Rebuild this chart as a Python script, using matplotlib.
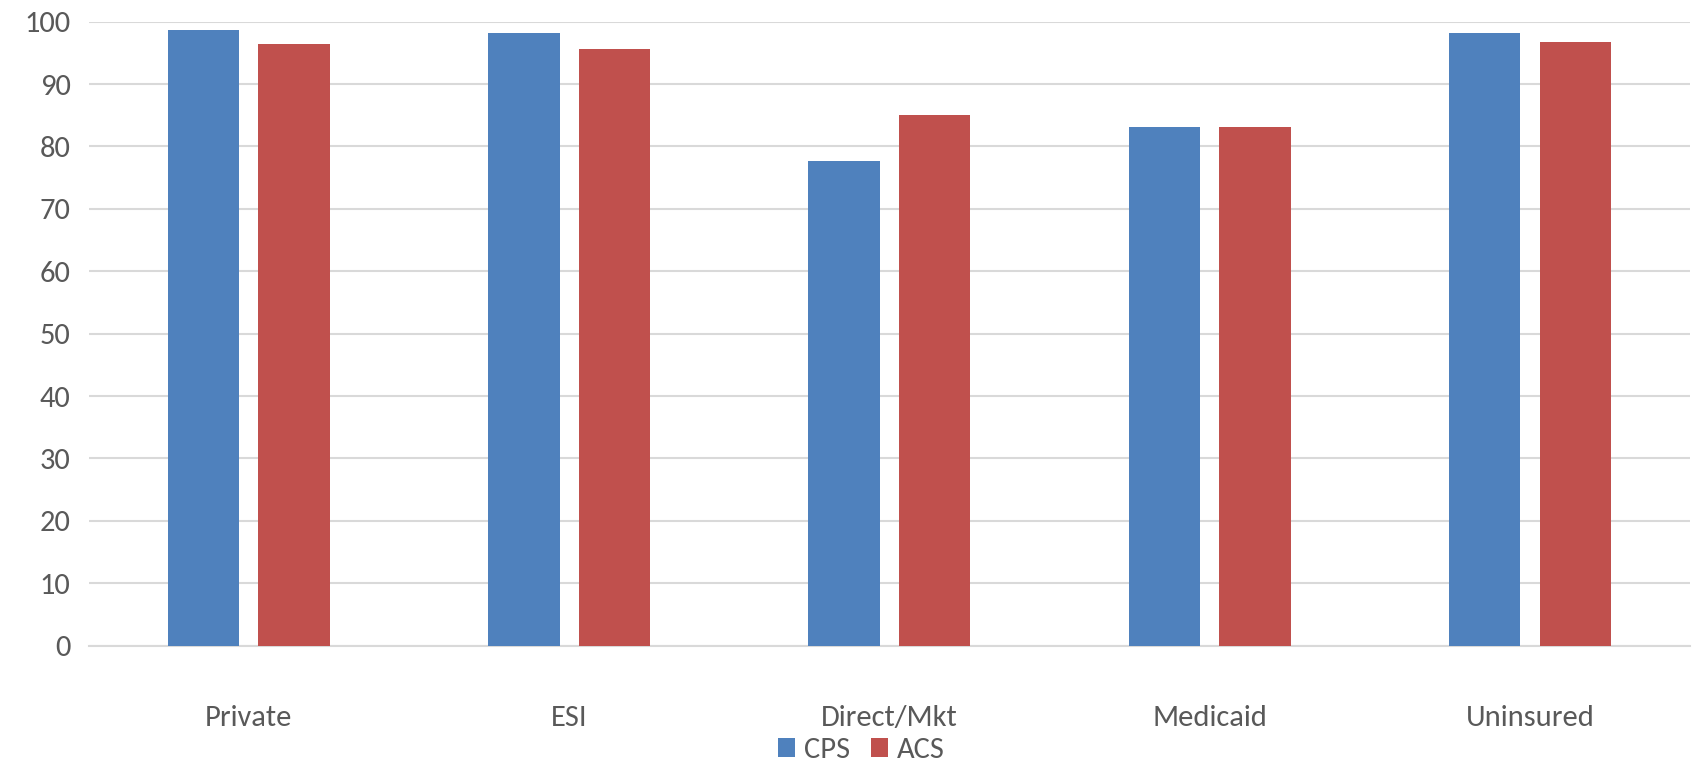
import matplotlib
matplotlib.use('Agg')
import matplotlib.pyplot as plt
import numpy as np

# datos
categorias = ['Private', 'ESI', 'Direct/Mkt', 'Medicaid', 'Uninsured']
cps = [98.7, 98.1, 77.6, 83.1, 98.1]
acs = [96.4, 95.6, 85.0, 83.1, 96.7]
yticks = [0, 10, 20, 30, 40, 50, 60, 70, 80, 90, 100]

AZUL = '#4F81BD'
ROJO = '#C0504D'
GRIS = '#595959'

plt.rcParams['font.family'] = ['Carlito', 'Liberation Sans', 'DejaVu Sans']

fig = plt.figure(figsize=(16.96, 7.67), dpi=100)
ax = fig.add_axes([0.0523, 0.1582, 0.9442, 0.8136])

x = np.arange(len(categorias))
ancho = 0.223
sep = ancho / 2 + 0.03
ax.bar(x - sep, cps, ancho, color=AZUL, label='CPS', zorder=3)
ax.bar(x + sep, acs, ancho, color=ROJO, label='ACS', zorder=3)

ax.set_xlim(-0.5, len(categorias) - 0.5)
ax.set_ylim(0, 100)
ax.set_yticks(yticks)
ax.set_xticks(x)
ax.set_xticklabels(categorias)
ax.grid(axis='y', color='#D9D9D9', linewidth=1.5, zorder=0)
for s in ['top', 'right', 'left']:
    ax.spines[s].set_visible(False)
ax.spines['bottom'].set_color('#D9D9D9')
ax.spines['bottom'].set_linewidth(1.5)
ax.tick_params(axis='both', length=0, labelsize=22, colors=GRIS)
ax.tick_params(axis='x', pad=43)
ax.tick_params(axis='y', pad=13)

fig.legend(loc='center', bbox_to_anchor=(0.508, 0.022), ncol=2, frameon=False,
           fontsize=22, handlelength=0.55, handleheight=0.55, handletextpad=0.3,
           columnspacing=0.7, labelcolor=GRIS)

fig.savefig('out.png', dpi=100)
